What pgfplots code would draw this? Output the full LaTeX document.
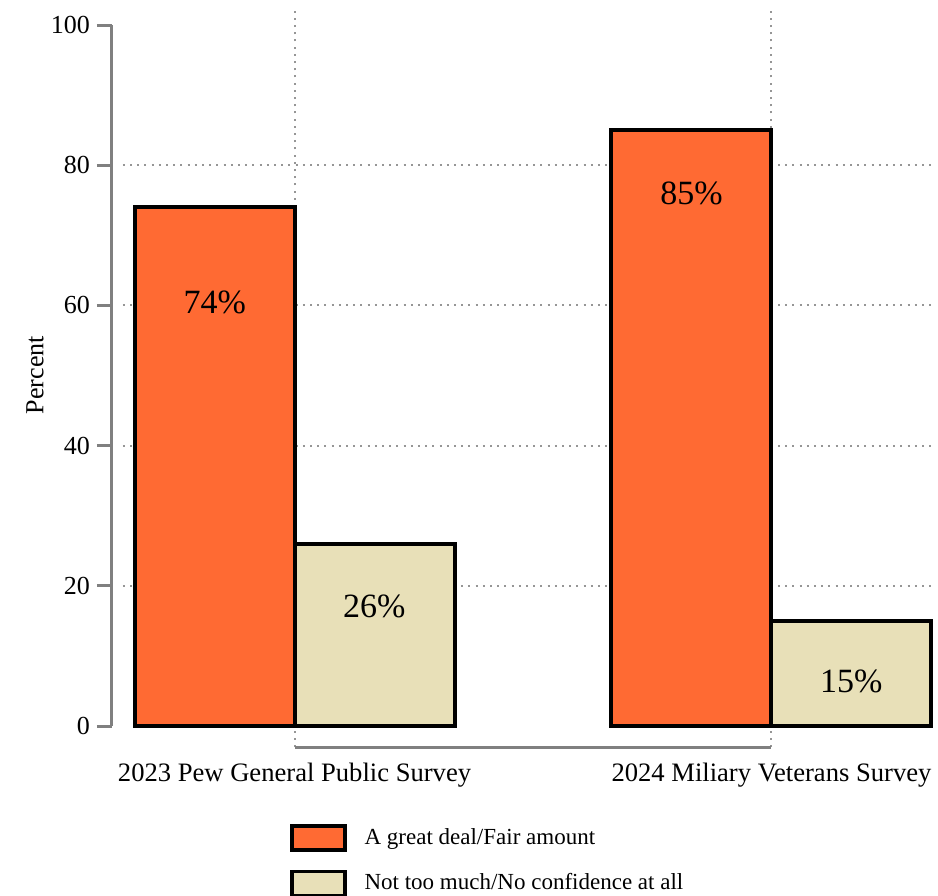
\documentclass[border=0pt]{standalone}
\usepackage{fontspec}
\setmainfont{Liberation Serif}
\usepackage{pgfplots}
\usepackage{pgfplotstable}
\pgfplotsset{compat=1.18}
\definecolor{barorange}{RGB}{255,106,51}
\definecolor{barbeige}{RGB}{232,224,184}
\definecolor{axgray}{RGB}{128,128,128}
\definecolor{gridgray}{RGB}{150,150,150}
\tikzset{gridl/.style={gridgray, line width=1pt, dash pattern=on 1pt off 2.6pt}}

\pgfplotstableread{
x y
1 74
2 85
}\greatdeal
\pgfplotstableread{
x y
1 26
2 15
}\notmuch

\begin{document}
\begin{tikzpicture}
\begin{axis}[
  at={(0,0)}, anchor=south west,
  width=412pt, height=369.8pt, scale only axis,
  set layers,
  clip=false,
  xmin=0.6172, xmax=2.345, ymin=-3, ymax=102.5,
  ybar=0pt, bar width=80pt,
  axis x line*=bottom, axis y line*=left,
  axis line style={draw=none},
  xtick={1,2},
  xticklabels={2023 Pew General Public Survey, 2024 Miliary Veterans Survey},
  x tick style={draw=none},
  ytick={0,20,...,100},
  y tick style={axgray, line width=1.5pt},
  tick align=outside, major tick length=7.5pt,
  /pgf/number format/assume math mode=true,
  ticklabel style={font=\fontsize{13}{15}\selectfont},
  xticklabel style={yshift=3pt, font=\fontsize{13.3}{15}\selectfont},
  ylabel={Percent},
  ylabel style={at={(axis description cs:-0.0934,0.503)}, anchor=center, font=\fontsize{13}{15}\selectfont},
  legend style={at={(0.216,-0.104)}, anchor=north west, draw=none, fill=none,
    inner sep=0pt, row sep=9pt, font=\fontsize{11.5}{13}\selectfont,
    /tikz/every odd column/.append style={column sep=7pt}},
  legend cell align=left,
  mylegend/.style={legend image code/.code={\draw[##1, line width=1.6pt, draw=black] (0pt,-6pt) rectangle (26.5pt,6pt);}},
]
\begin{pgfonlayer}{axis background}
\draw[gridl] (axis cs:0.64,20) -- (axis cs:2.345,20);
\draw[gridl] (axis cs:0.64,40) -- (axis cs:2.345,40);
\draw[gridl] (axis cs:0.64,60) -- (axis cs:2.345,60);
\draw[gridl] (axis cs:0.64,80) -- (axis cs:2.345,80);
\draw[gridl] (axis cs:1,-3) -- (axis cs:1,102.5);
\draw[gridl] (axis cs:2,-3) -- (axis cs:2,102.5);
\end{pgfonlayer}
\draw[axgray, line width=1.5pt] (axis cs:0.6172,0) -- (axis cs:0.6172,100);
\draw[axgray, line width=1.5pt] (axis cs:1,-3) -- (axis cs:2,-3);

\addplot[fill=barorange, draw=black, line width=2pt, mylegend] table[x=x,y=y] {\greatdeal};
\addlegendentry{A great deal/Fair amount}
\addplot[fill=barbeige, draw=black, line width=2pt, mylegend] table[x=x,y=y] {\notmuch};
\addlegendentry{Not too much/No confidence at all}

\node[font=\fontsize{17}{20}\selectfont] at (axis cs:0.8326,60.4) {74\%};
\node[font=\fontsize{17}{20}\selectfont] at (axis cs:1.8326,76) {85\%};
\node[font=\fontsize{17}{20}\selectfont] at (axis cs:1.1674,17.1) {26\%};
\node[font=\fontsize{17}{20}\selectfont] at (axis cs:2.1674,6.4) {15\%};
\end{axis}
\pgfresetboundingbox
\path[use as bounding box] (-56pt,-74pt) rectangle (413pt,373.55pt);
\end{tikzpicture}
\end{document}
